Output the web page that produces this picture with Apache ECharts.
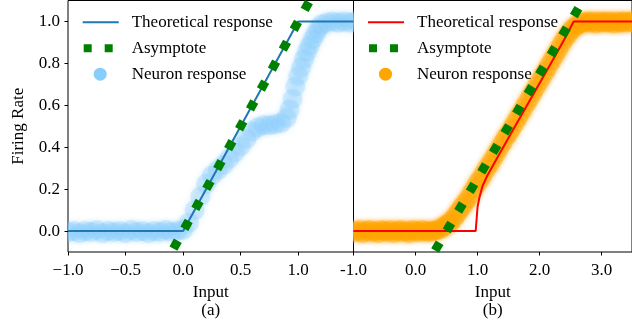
<!DOCTYPE html>
<html>
<head>
<meta charset="utf-8">
<script src="https://cdn.jsdelivr.net/npm/echarts@6/dist/echarts.min.js"></script>
<style>
  html, body { margin: 0; padding: 0; background: #fff; }
  #chart { width: 632px; height: 331px; }
</style>
</head>
<body>
<div id="chart"></div>
<script>
// left panel (a)
const leftTheoryX = [-1.0, 0.0, 1.0, 1.48];
const leftTheoryY = [0.0, 0.0, 1.0, 1.0];
const leftAsymX = [-0.084, 1.12];
const leftAsymY = [-0.084, 1.12];
const leftNeuronX = [-1.0, -0.95, -0.9, -0.85, -0.8, -0.75, -0.7, -0.65, -0.6, -0.55, -0.5, -0.45, -0.4, -0.35, -0.3, -0.25, -0.2, -0.15, -0.1, -0.05,
    0.0, 0.05, 0.1, 0.15, 0.2, 0.25, 0.3, 0.35, 0.4, 0.45, 0.5, 0.55, 0.6, 0.65, 0.7, 0.75, 0.8, 0.85, 0.9,
    0.925, 0.95, 0.975, 1.0, 1.025, 1.05, 1.075, 1.1, 1.125, 1.15, 1.175, 1.2, 1.25, 1.3, 1.35, 1.4, 1.45, 1.5];
const leftNeuronY = [-0.005, 0.0, -0.01, 0.0, -0.005, 0.005, -0.01, 0.0, -0.005, 0.0, -0.01, 0.005, -0.005, 0.0, -0.01, 0.0, -0.005, 0.005, -0.005, 0.0,
    0.005, 0.04, 0.1, 0.165, 0.225, 0.265, 0.29, 0.315, 0.345, 0.375, 0.405, 0.44, 0.475, 0.495, 0.505, 0.505, 0.51, 0.515, 0.54,
    0.58, 0.63, 0.69, 0.74, 0.78, 0.82, 0.855, 0.885, 0.915, 0.94, 0.965, 0.985, 0.995, 1.0, 0.995, 1.0, 0.995, 1.0];

// right panel (b)
const rightTheoryX = [-1.0, 0.97, 1.0, 1.03, 1.08, 1.15, 1.3, 1.5, 1.75, 2.0, 2.25, 2.4, 2.55, 3.5];
const rightTheoryY = [0.0, 0.0, 0.115, 0.16, 0.215, 0.26, 0.34, 0.445, 0.575, 0.705, 0.835, 0.915, 1.0, 1.0];
const rightAsymX = [0.315, 2.75];
const rightAsymY = [-0.0925, 1.125];
const rightNeuronX = [-1.0, -0.95, -0.9, -0.85, -0.8, -0.75, -0.7, -0.65, -0.6, -0.55, -0.5, -0.45, -0.4, -0.35, -0.3, -0.25, -0.2, -0.15, -0.1, -0.05,
    0.0, 0.05, 0.1, 0.15, 0.2, 0.25, 0.3, 0.35, 0.4, 0.45, 0.5, 0.55, 0.6, 0.65, 0.7, 0.75, 0.8, 0.85, 0.9, 0.95,
    1.0, 1.05, 1.1, 1.15, 1.2, 1.25, 1.3, 1.35, 1.4, 1.45, 1.5, 1.55, 1.6, 1.65, 1.7, 1.75, 1.8, 1.85, 1.9, 1.95,
    2.0, 2.05, 2.1, 2.15, 2.2, 2.25, 2.3, 2.35, 2.4, 2.45, 2.5, 2.55, 2.6, 2.65, 2.7, 2.75, 2.8, 2.85, 2.9, 2.95,
    3.0, 3.05, 3.1, 3.15, 3.2, 3.25, 3.3, 3.35, 3.4, 3.45, 3.5];
const rightNeuronY = [0.0, -0.005, 0.005, -0.01, 0.0, 0.005, -0.005, 0.0, -0.01, 0.005, 0.0, -0.005, 0.005, -0.01, 0.0, 0.005, -0.005, 0.0, -0.01, 0.005,
    0.0, -0.005, 0.005, 0.0, -0.005, 0.0, 0.0, 0.005, 0.01, 0.02, 0.03, 0.04, 0.055, 0.075, 0.095, 0.115, 0.135, 0.155, 0.18, 0.205,
    0.23, 0.25, 0.275, 0.3, 0.32, 0.345, 0.37, 0.395, 0.42, 0.445, 0.465, 0.49, 0.515, 0.54, 0.565, 0.59, 0.615, 0.64, 0.665, 0.69,
    0.715, 0.74, 0.765, 0.79, 0.815, 0.84, 0.865, 0.89, 0.915, 0.935, 0.955, 0.97, 0.982, 0.99, 0.995, 1.0, 0.995, 1.0, 0.99, 1.0,
    0.995, 1.0, 0.995, 1.0, 0.99, 1.0, 0.995, 1.0, 0.995, 1.0, 1.0];

const yTicks = [0.0, 0.2, 0.4, 0.6, 0.8, 1.0];
const leftXTicks = [-1.0, -0.5, 0.0, 0.5, 1.0];
const rightXTicks = [-1.0, 0.0, 1.0, 2.0, 3.0];

const FONT = 'Liberation Serif';

function pairs(xs, ys) {
    return xs.map((x, i) => [x, ys[i]]);
}

// legend icons, 44x16 box (the M0,0 M44,16 points fix the box)
const ICON_LINE = 'path://M0,0M44,16M0,7H36V9H0Z';
const ICON_SQUARES = 'path://M0,0M44,16M1,4H9V12H1Z M22,4H30V12H22Z';
const ICON_DOT = 'path://M0,0M44,16M11,8A6.5,6.5 0 1,0 24,8A6.5,6.5 0 1,0 11,8Z';

function makeLegend(left, lineColor, dotColor) {
    return {
        left: left,
        top: 13.7,
        orient: 'vertical',
        padding: 0,
        itemWidth: 44,
        itemHeight: 16,
        itemGap: 9,
        selectedMode: false,
        textStyle: { fontFamily: FONT, fontSize: 17, color: '#000', lineHeight: 16 },
        data: [
            { name: 'Theoretical response', icon: ICON_LINE, itemStyle: { color: lineColor, borderWidth: 0, opacity: 1 } },
            { name: 'Asymptote', icon: ICON_SQUARES, itemStyle: { color: '#008000', borderWidth: 0, opacity: 1 } },
            { name: 'Neuron response', icon: ICON_DOT, itemStyle: { color: dotColor, borderWidth: 0, opacity: 1 } }
        ]
    };
}

const labelStyle = { fontFamily: FONT, fontSize: 17, color: '#000' };

function makeXAxis(grid, min, max, ticks, name, unicodeMinus) {
    return {
        type: 'value',
        gridIndex: grid,
        min: min,
        max: max,
        axisLine: { show: false, onZero: false },
        splitLine: { show: false },
        axisTick: { show: true, customValues: ticks, length: 3.5, lineStyle: { color: '#000', width: 1 } },
        axisLabel: Object.assign({
            customValues: ticks,
            margin: 10,
            formatter: v => (v < 0 ? (unicodeMinus ? '\u2212' : '-') : '') + Math.abs(v).toFixed(1)
        }, labelStyle),
        name: name,
        nameLocation: 'middle',
        nameGap: 32,
        nameTextStyle: { fontFamily: FONT, fontSize: 17, color: '#000', lineHeight: 18 }
    };
}

// translucent dots, clipped to the plot area
function neuronSeries(axis, xs, ys, color, alpha) {
    return {
        name: 'Neuron response', type: 'custom', xAxisIndex: axis, yAxisIndex: axis, z: 1, silent: true,
        clip: true,
        itemStyle: { color: color },
        data: pairs(xs, ys),
        renderItem: function (params, api) {
            const p = api.coord([api.value(0), api.value(1)]);
            return {
                type: 'circle',
                shape: { cx: p[0], cy: p[1], r: 10 },
                style: { fill: color, opacity: alpha, shadowBlur: 5, shadowColor: color }
            };
        }
    };
}

const chart = echarts.init(document.getElementById('chart'));

const option = {
    animation: false,
    backgroundColor: '#fff',
    grid: [
        { left: 68, top: 0.5, width: 285.5, height: 251.5, show: true, borderColor: '#000', borderWidth: 1, backgroundColor: 'transparent' },
        { left: 353.5, top: 0.5, width: 286, height: 251.5, show: true, borderColor: '#000', borderWidth: 1, backgroundColor: 'transparent' }
    ],
    legend: [
        makeLegend(82.7, '#1f77b4', '#87CEFA'),
        makeLegend(368, '#ff0000', '#FFA500')
    ],
    xAxis: [
        makeXAxis(0, -1.0, 1.48, leftXTicks, 'Input\n(a)', true),
        makeXAxis(1, -1.0, 3.49, rightXTicks, 'Input\n(b)', false)
    ],
    yAxis: [
        {
            type: 'value',
            gridIndex: 0,
            min: -0.1,
            max: 1.1,
            axisLine: { show: false, onZero: false },
            splitLine: { show: false },
            axisTick: { show: true, customValues: yTicks, length: 3.5, lineStyle: { color: '#000', width: 1 } },
            axisLabel: Object.assign({ customValues: yTicks, margin: 8, formatter: v => v.toFixed(1) }, labelStyle),
            name: 'Firing Rate',
            nameLocation: 'middle',
            nameGap: 41,
            nameTextStyle: { fontFamily: FONT, fontSize: 17, color: '#000' }
        },
        {
            type: 'value',
            gridIndex: 1,
            min: -0.1,
            max: 1.1,
            axisLine: { show: false, onZero: false },
            splitLine: { show: false },
            axisTick: { show: false },
            axisLabel: { show: false }
        }
    ],
    series: [
        neuronSeries(0, leftNeuronX, leftNeuronY, '#87CEFA', 0.28),
        {
            name: 'Theoretical response', type: 'line', xAxisIndex: 0, yAxisIndex: 0, z: 2, silent: true,
            symbol: 'none', lineStyle: { color: '#1f77b4', width: 2 }, itemStyle: { color: '#1f77b4' },
            data: pairs(leftTheoryX, leftTheoryY)
        },
        {
            name: 'Asymptote', type: 'line', xAxisIndex: 0, yAxisIndex: 0, z: 3, silent: true,
            symbol: 'none', lineStyle: { color: '#008000', width: 9, type: [9, 13.7], cap: 'butt' }, itemStyle: { color: '#008000' },
            data: pairs(leftAsymX, leftAsymY)
        },
        neuronSeries(1, rightNeuronX, rightNeuronY, '#FFA500', 0.35),
        {
            name: 'Theoretical response', type: 'line', xAxisIndex: 1, yAxisIndex: 1, z: 2, silent: true,
            symbol: 'none', lineStyle: { color: '#ff0000', width: 2 }, itemStyle: { color: '#ff0000' },
            data: pairs(rightTheoryX, rightTheoryY)
        },
        {
            name: 'Asymptote', type: 'line', xAxisIndex: 1, yAxisIndex: 1, z: 3, silent: true,
            symbol: 'none', lineStyle: { color: '#008000', width: 9, type: [9, 13.7], cap: 'butt' }, itemStyle: { color: '#008000' },
            data: pairs(rightAsymX, rightAsymY)
        }
    ]
};

chart.setOption(option);
</script>
</body>
</html>
